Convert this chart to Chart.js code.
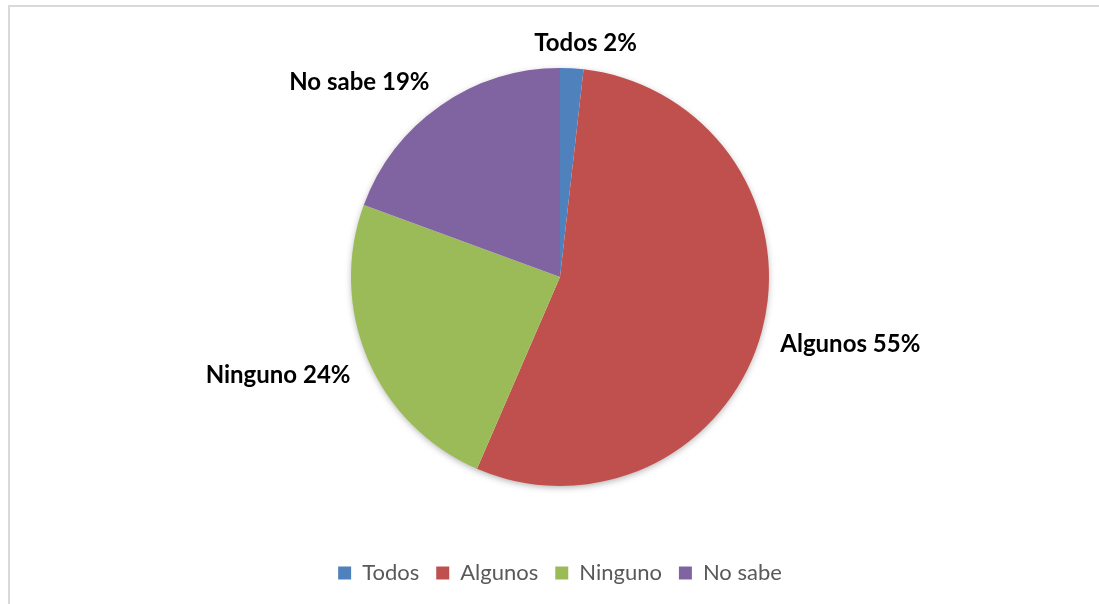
<!DOCTYPE html>
<html>
<head>
<meta charset="utf-8">
<script src="https://cdn.jsdelivr.net/npm/chart.js@4.4.1/dist/chart.umd.min.js"></script>
<style>
  html, body { margin: 0; padding: 0; background: #fff; }
  #wrap { position: relative; width: 1099px; height: 604px; overflow: hidden; }
  #marco { position: absolute; left: 8px; top: 5px; width: 1200px; height: 700px;
           border-left: 2px solid #d9d9d9; border-top: 2px solid #d9d9d9; pointer-events: none; }
  canvas { position: absolute; left: 0; top: 0; }
</style>
</head>
<body>
<div id="wrap">
  <div id="marco"></div>
  <canvas id="grafico" width="1099" height="604"></canvas>
</div>
<script>
// datos (porcentaje de respuestas)
const categorias = ['Todos', 'Algunos', 'Ninguno', 'No sabe'];
const valores = [1.8, 54.7, 24.1, 19.4];
const colores = ['#4f81bd', '#c0504d', '#9bbb59', '#8064a2'];

const total = valores.reduce((a, b) => a + b, 0);

// sombra suave detrás del círculo completo
const sombra = {
    id: 'sombra',
    beforeDatasetsDraw(chart) {
        const arc = chart.getDatasetMeta(0).data[0];
        if (!arc) return;
        const ctx = chart.ctx;
        ctx.save();
        ctx.shadowColor = 'rgba(0,0,0,0.35)';
        ctx.shadowBlur = 7;
        ctx.shadowOffsetY = 2;
        ctx.fillStyle = '#fff';
        ctx.beginPath();
        ctx.arc(arc.x, arc.y, arc.outerRadius - 1, 0, Math.PI * 2);
        ctx.fill();
        ctx.restore();
    }
};

// etiquetas fuera de cada sector: "Nombre NN%"
const etiquetasFuera = {
    id: 'etiquetasFuera',
    afterDatasetsDraw(chart) {
        const ctx = chart.ctx;
        const meta = chart.getDatasetMeta(0);
        ctx.save();
        ctx.font = 'bold 24px Lato';
        ctx.fillStyle = '#000';
        ctx.textBaseline = 'middle';
        meta.data.forEach((arc, i) => {
            const mid = (arc.startAngle + arc.endAngle) / 2;
            const c = Math.cos(mid), s = Math.sin(mid);
            const texto = categorias[i] + ' ' + Math.round(valores[i] / total * 100) + '%';
            if (Math.abs(c) < 0.15) {
                // arriba o abajo: centrado
                const r = arc.outerRadius + 13;
                ctx.textAlign = 'center';
                ctx.fillText(texto, arc.x + c * r + 13, arc.y + s * r + Math.sign(s) * 12);
            } else {
                const r = arc.outerRadius + 19;
                ctx.textAlign = c > 0 ? 'left' : 'right';
                ctx.fillText(texto, arc.x + c * r, arc.y + s * r + Math.sign(s) * 8);
            }
        });
        ctx.restore();
    }
};

const ctx = document.getElementById('grafico').getContext('2d');
new Chart(ctx, {
    type: 'pie',
    data: {
        labels: categorias,
        datasets: [{
            data: valores,
            backgroundColor: colores,
            borderWidth: 0
        }]
    },
    options: {
        responsive: false,
        animation: false,
        radius: 209,
        layout: { padding: { top: 9, left: 21, right: 0, bottom: 10 } },
        plugins: {
            tooltip: { enabled: false },
            legend: {
                position: 'bottom',
                labels: {
                    font: { family: 'Lato', size: 22 },
                    color: '#595959',
                    boxWidth: 13,
                    boxHeight: 13,
                    padding: 17
                }
            }
        }
    },
    plugins: [sombra, etiquetasFuera]
});
</script>
</body>
</html>
